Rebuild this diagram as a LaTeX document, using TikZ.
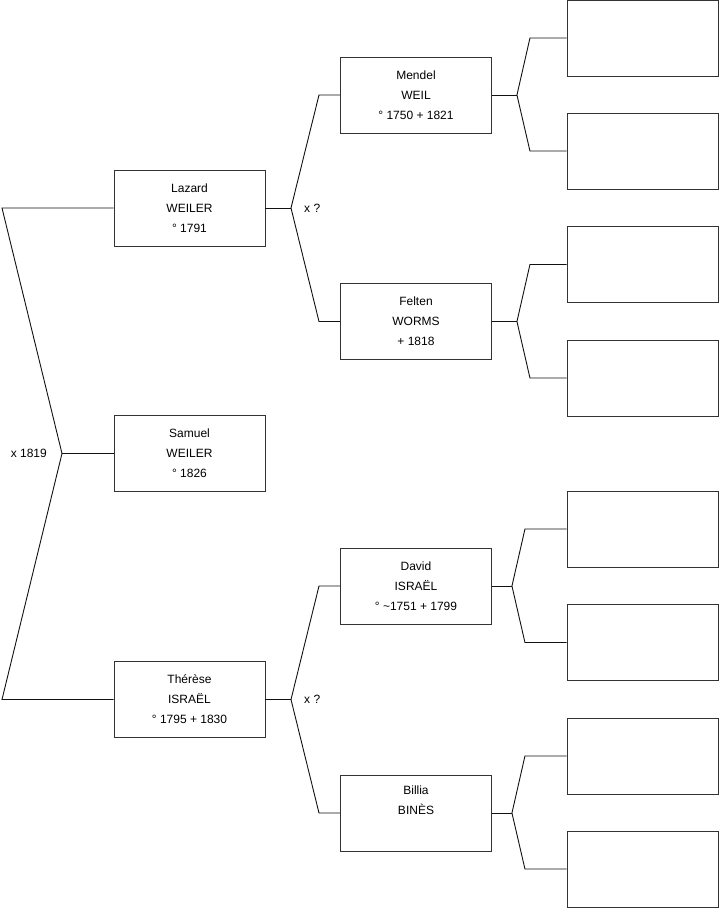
\documentclass[tikz,border=0pt]{standalone}
\usepackage{fontspec}
\setmainfont{Liberation Sans}
\usetikzlibrary{positioning}
\definecolor{boxline}{HTML}{333333}
\definecolor{wire}{HTML}{111111}

\begin{document}
\begin{tikzpicture}[
    x=1pt, y=-1pt,
    every node/.style={font=\fontsize{12}{20}\selectfont, text=black},
    person/.style={
        rectangle, draw=boxline, line width=0.9pt, fill=white,
        minimum width=151pt, minimum height=76pt, align=center,
        inner sep=0pt,
    },
    blank/.style={person},
    wire/.style={draw=wire, line width=0.9pt},
    union/.style={anchor=west, inner sep=0pt},
]
\useasboundingbox (0,0) rectangle (719,908);

% ================================================ generation 1
\node[person] (lazard)  at (189.5, 208.0) {Lazard\\WEILER\\° 1791};
\node[person] (samuel)  at (189.5, 453.5) {Samuel\\WEILER\\° 1826};
\node[person] (therese) at (189.5, 699.5) {Thérèse\\ISRAËL\\° 1795 + 1830};

% ================================================ generation 2
\node[person] (mendel) at (416, 95.0)  {Mendel\\WEIL\\° 1750 + 1821};
\node[person] (felten) at (416, 321.5) {Felten\\WORMS\\+ 1818};
\node[person] (david)  at (416, 586.0) {David\\ISRAËL\\° \textasciitilde1751 + 1799};
\node[person] (billia) at (416, 813.0) {Billia\\BINÈS\\\strut};

% ================================================ generation 3, still empty
\foreach \i/\y in {1/38, 2/151, 3/264.5, 4/378, 5/529, 6/642.5, 7/756, 8/869}{
    \node[blank] (e\i) at (642.5, \y) {};
}

% the parents of Samuel
\coordinate (up0)   at (2, 208.0);
\coordinate (knot0) at (62, 453.5);
\coordinate (down0) at (2, 699.5);
\draw[wire] (lazard.west) -- (up0) -- (knot0) -- (down0) -- (therese.west);
\draw[wire] (knot0) -- (samuel.west);
\node[anchor=east, inner sep=0pt] (wed0) at ([xshift=-15pt]knot0) {x 1819};

% the parents of Lazard
\coordinate (knotL) at (291, 208.0);
\coordinate (upL)   at (319, 95.0);
\coordinate (downL) at (319, 321.5);
\draw[wire] (lazard.east) -- (knotL);
\draw[wire] (mendel.west) -- (upL) -- (knotL) -- (downL) -- (felten.west);
\node[union] (wedL) at ([xshift=13pt]knotL) {x ?};

% the parents of Therese
\coordinate (knotT) at (291, 699.5);
\coordinate (upT)   at (319, 586.0);
\coordinate (downT) at (319, 813.0);
\draw[wire] (therese.east) -- (knotT);
\draw[wire] (david.west) -- (upT) -- (knotT) -- (downT) -- (billia.west);
\node[union] (wedT) at ([xshift=13pt]knotT) {x ?};

% forks towards the empty boxes
\foreach \p/\a/\b/\k/\e in {mendel/e1/e2/25/38, felten/e3/e4/25/38,
                            david/e5/e6/20/33, billia/e7/e8/20/33}{
    \coordinate (k-\p) at ([xshift=\k pt]\p.east);
    \coordinate (u-\p) at ([xshift=\e pt]\p.east |- \a.west);
    \coordinate (d-\p) at ([xshift=\e pt]\p.east |- \b.west);
    \draw[wire] (\p.east) -- (k-\p);
    \draw[wire] (\a.west) -- (u-\p) -- (k-\p) -- (d-\p) -- (\b.west);
}

\end{tikzpicture}
\end{document}
